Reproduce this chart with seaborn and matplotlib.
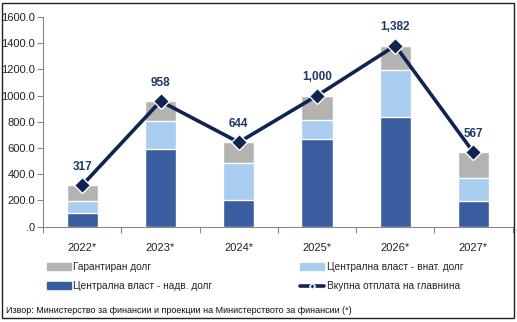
import matplotlib
matplotlib.use("Agg")
import matplotlib.pyplot as plt
import seaborn as sns
import pandas as pd
from matplotlib.patches import Patch, Rectangle
from matplotlib.lines import Line2D

years = ["2022*", "2023*", "2024*", "2025*", "2026*", "2027*"]
external = [105, 595, 200, 670, 840, 195]      # Централна власт - надв. долг
domestic = [90, 210, 285, 145, 355, 175]       # Централна власт - внат. долг
guaranteed = [122, 153, 159, 185, 187, 197]    # Гарантиран долг
total = [317, 958, 644, 1000, 1382, 567]       # Вкупна отплата на главнина
total_labels = ["317", "958", "644", "1,000", "1,382", "567"]
yticks = [0, 200, 400, 600, 800, 1000, 1200, 1400, 1600]
ytick_labels = [".0", "200.0", "400.0", "600.0", "800.0", "1000.0", "1200.0", "1400.0", "1600.0"]

c_dark = "#3a5d9f"
c_light = "#a9cdee"
c_grey = "#b5b2b2"
c_line = "#0f2452"

sns.set_theme(style="white")
plt.rcParams["font.family"] = ["Liberation Sans", "DejaVu Sans"]

df = pd.DataFrame({"year": years, "ext": external, "dom": domestic, "gua": guaranteed})
df["lvl2"] = df["ext"] + df["dom"]
df["lvl3"] = df["lvl2"] + df["gua"]

fig = plt.figure(figsize=(5.17, 3.22), dpi=100)
ax = fig.add_axes([0.0835, 0.296, 0.908, 0.651])

sns.barplot(data=df, x="year", y="lvl3", color=c_grey, width=0.4, ax=ax, saturation=1)
sns.barplot(data=df, x="year", y="lvl2", color=c_light, width=0.4, ax=ax, saturation=1)
sns.barplot(data=df, x="year", y="ext", color=c_dark, width=0.4, ax=ax, saturation=1)

xs = list(range(len(years)))
ax.plot(xs, total, color=c_line, lw=2.6, marker="D", ms=8, mfc=c_line,
        mec="white", mew=1.0, zorder=5)
for x, v, t in zip(xs, total, total_labels):
    ax.annotate(t, (x, v), xytext=(0, 9), textcoords="offset points",
                ha="center", va="bottom", fontsize=8.5, fontweight="bold", color="#1f3864")

ax.set_xlim(-0.5, 5.5)
ax.set_ylim(0, 1600)
ax.set_yticks(yticks)
ax.set_yticklabels(ytick_labels, fontsize=8, color="#222222")
ax.set_xticks(xs)
ax.set_xticklabels(years, fontsize=8, color="#222222")
ax.set_xlabel("")
ax.set_ylabel("")
for s in ["top", "right"]:
    ax.spines[s].set_visible(False)
for s in ["left", "bottom"]:
    ax.spines[s].set_color("#888888")
    ax.spines[s].set_linewidth(0.8)
ax.tick_params(axis="y", left=True, length=4, width=0.8, color="#888888", pad=2)
ax.tick_params(axis="x", bottom=False, pad=6)
ax.set_xticks([i + 0.5 for i in range(-1, 6)], minor=True)
ax.tick_params(axis="x", which="minor", bottom=True, length=4, width=0.8, color="#888888")

handles = [
    Patch(color=c_grey, label="Гарантиран долг"),
    Patch(color=c_dark, label="Централна власт - надв. долг"),
    Patch(color=c_light, label="Централна власт - внат. долг"),
    Line2D([0], [0], color=c_line, lw=2.6, marker="D", ms=3, mfc=c_line,
           mec="white", label="Вкупна отплата на главнина"),
]
fig.legend(handles=handles, ncol=2, loc="center left", bbox_to_anchor=(0.090, 0.141),
           frameon=False, fontsize=7.3, handlelength=2.4, handleheight=0.6,
           handletextpad=0.25, columnspacing=8.6, labelspacing=0.9, borderpad=0,
           borderaxespad=0)

fig.text(0.012, 0.037, "Извор: Министерство за финансии и проекции на Министерството за финансии (*)",
         fontsize=6.5, color="#111111", ha="left", va="center")

fig.add_artist(Rectangle((0.004, 0.012), 0.99, 0.98, transform=fig.transFigure,
                         fill=False, edgecolor="#222222", lw=1.0))

fig.savefig("out.png", dpi=100)
